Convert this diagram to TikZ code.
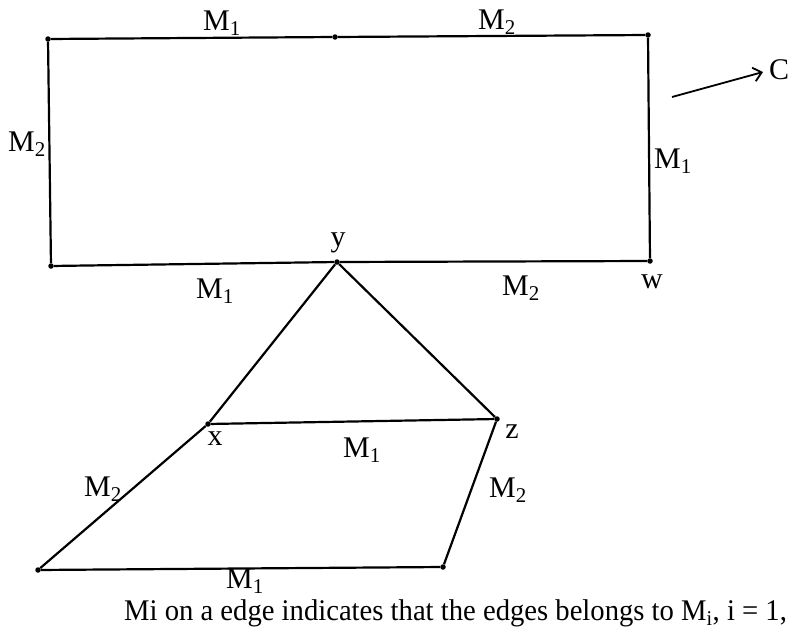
\documentclass[tikz,border=0pt]{standalone}
\usepackage{fontspec}
\setmainfont{Liberation Serif}
\newfontfamily\capfont[FakeStretch=0.955]{Liberation Serif}
\usetikzlibrary{arrows.meta}
\begin{document}
\begin{tikzpicture}[x=1pt,y=-1pt,
  edge/.style={line width=2.2pt,black},
  vdot/.style={circle,fill=black,inner sep=0pt,minimum size=5.5pt},
  lbl/.style={font=\fontsize{30}{32}\selectfont,inner sep=0pt},
  caption/.style={font=\capfont\fontsize{30}{32}\selectfont,inner sep=0pt,anchor=west}]
\useasboundingbox (0,0) rectangle (795,637);
% vertices
\node[vdot] (A) at (48,39) {};
\node[vdot] (T) at (335,37) {};
\node[vdot] (B) at (648,35) {};
\node[vdot] (W) at (650,261) {};
\node[vdot] (Y) at (337,262) {};
\node[vdot] (D) at (51,266) {};
\node[vdot] (X) at (208,424) {};
\node[vdot] (Z) at (497,419) {};
\node[vdot] (P) at (38,570) {};
\node[vdot] (Q) at (443,567) {};
% edges
\draw[edge] (A) -- (T) -- (B) -- (W) -- (Y) -- (D) -- (A);
\draw[edge] (Y) -- (X) -- (Z) -- (Y);
\draw[edge] (X) -- (P) -- (Q) -- (Z);
% arrow to C
\coordinate (c0) at (672,97);
\coordinate (c1) at (763,72);
\node[lbl,anchor=west] (C) at (769,70) {C};
\draw[line width=1.8pt,-{Straight Barb[length=8pt,width=14pt]}] (c0) -- (c1);
% labels
\node[lbl] (l1) at (222,23) {M\textsubscript{1}};
\node[lbl] (l2) at (497,22) {M\textsubscript{2}};
\node[lbl] (l3) at (27,144) {M\textsubscript{2}};
\node[lbl] (l4) at (673,161) {M\textsubscript{1}};
\node[lbl] (ly) at (338,243) {y};
\node[lbl] (l5) at (215,291) {M\textsubscript{1}};
\node[lbl] (l6) at (521,288) {M\textsubscript{2}};
\node[lbl] (lw) at (652,282) {w};
\node[lbl] (lx) at (215,439) {x};
\node[lbl] (lz) at (512,432) {z};
\node[lbl] (l7) at (362,450) {M\textsubscript{1}};
\node[lbl] (l8) at (103,489) {M\textsubscript{2}};
\node[lbl] (l9) at (508,490) {M\textsubscript{2}};
\node[lbl] (l10) at (245,581) {M\textsubscript{1}};
\node[caption] (cap) at (124,613) {Mi on a edge indicates that the edges belongs to M\textsubscript{i}, i = 1,};
\end{tikzpicture}
\end{document}
